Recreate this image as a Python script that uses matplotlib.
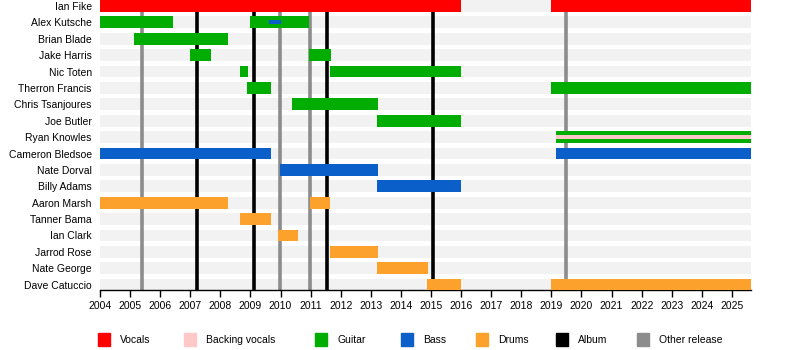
import matplotlib
matplotlib.use("Agg")
import matplotlib.pyplot as plt
from matplotlib.patches import Rectangle

plt.rcParams['font.family'] = ['Liberation Sans', 'DejaVu Sans']

START = 2004.0
END = 2025.64

members = ["Ian Fike", "Alex Kutsche", "Brian Blade", "Jake Harris", "Nic Toten",
           "Therron Francis", "Chris Tsanjoures", "Joe Butler", "Ryan Knowles",
           "Cameron Bledsoe", "Nate Dorval", "Billy Adams", "Aaron Marsh",
           "Tanner Bama", "Ian Clark", "Jarrod Rose", "Nate George", "Dave Catuccio"]

# (member, role, start, end)
vocals = [("Ian Fike", 2004.0, 2016.0), ("Ian Fike", 2019.0, END)]
guitar = [("Alex Kutsche", 2004.0, 2006.42), ("Alex Kutsche", 2009.0, 2010.95),
          ("Brian Blade", 2005.13, 2008.26),
          ("Jake Harris", 2007.0, 2007.69), ("Jake Harris", 2010.95, 2011.68),
          ("Nic Toten", 2008.65, 2008.92), ("Nic Toten", 2011.65, 2016.0),
          ("Therron Francis", 2008.89, 2009.68), ("Therron Francis", 2019.0, END),
          ("Chris Tsanjoures", 2010.38, 2013.24),
          ("Joe Butler", 2013.2, 2016.0),
          ("Ryan Knowles", 2019.15, END)]
backing = [("Ryan Knowles", 2019.15, END)]
bass = [("Cameron Bledsoe", 2004.0, 2009.68), ("Cameron Bledsoe", 2019.15, END),
        ("Nate Dorval", 2009.98, 2013.24),
        ("Billy Adams", 2013.2, 2016.0)]
bass_thin = [("Alex Kutsche", 2009.62, 2010.0)]
drums = [("Aaron Marsh", 2004.0, 2008.26), ("Aaron Marsh", 2010.98, 2011.65),
         ("Tanner Bama", 2008.65, 2009.68),
         ("Ian Clark", 2009.92, 2010.58),
         ("Jarrod Rose", 2011.65, 2013.24),
         ("Nate George", 2013.2, 2014.9),
         ("Dave Catuccio", 2014.87, 2016.0), ("Dave Catuccio", 2019.0, END)]
albums = [2007.22, 2009.13, 2011.56, 2015.05]
other_releases = [2005.41, 2009.98, 2010.98, 2019.49]
years = list(range(2004, 2026))

C_VOC = '#ff0000'
C_BVOC = '#ffc8c8'
C_GUI = '#00ad00'
C_BASS = '#0a60c8'
C_DRUM = '#fca22c'
C_ALB = '#000000'
C_OTH = '#8c8c8c'

fig = plt.figure(figsize=(8, 3.5), dpi=100)
ax = fig.add_axes([0.125, 0.171, 0.814, 0.829])

row = {m: i for i, m in enumerate(members)}
H = 0.72

for m in members:
    ax.barh(row[m], END - START, left=START, height=H, color='#f2f2f2', zorder=1)

for x in albums:
    ax.axvline(x, color=C_ALB, lw=2.6, zorder=2)
for x in other_releases:
    ax.axvline(x, color=C_OTH, lw=2.6, zorder=2)

def draw(lst, color, h=H, z=3):
    for m, s, e in lst:
        ax.barh(row[m], e - s, left=s, height=h, color=color, zorder=z, linewidth=0)

draw(vocals, C_VOC)
draw(guitar, C_GUI)
draw(bass, C_BASS)
draw(drums, C_DRUM)
draw(backing, C_BVOC, h=0.26, z=4)
draw(bass_thin, C_BASS, h=0.24, z=4)

ax.set_xlim(START, END)
ax.set_ylim(17.335, -0.366)
ax.set_yticks(range(len(members)))
ax.set_yticklabels(members, fontsize=7.5)
ax.tick_params(axis='y', length=0, pad=6)
ax.set_xticks(years)
ax.set_xticklabels([str(y) for y in years], fontsize=7.5)
ax.tick_params(axis='x', length=5, width=1, pad=3)
for s in ['top', 'right']:
    ax.spines[s].set_visible(False)
ax.spines['left'].set_visible(False)
ax.spines['bottom'].set_linewidth(1)

legend_items = [("Vocals", C_VOC, 98), ("Backing vocals", C_BVOC, 184), ("Guitar", C_GUI, 315),
                ("Bass", C_BASS, 401), ("Drums", C_DRUM, 476), ("Album", C_ALB, 556),
                ("Other release", C_OTH, 637)]
for label, col, px in legend_items:
    fig.patches.append(Rectangle((px / 800, (350 - 346) / 350), 12 / 800, 13 / 350,
                                 transform=fig.transFigure, color=col, figure=fig))
    fig.text((px + 22) / 800, (350 - 340) / 350, label, fontsize=7.5, va='center', ha='left')

fig.savefig('out.png', dpi=100)
